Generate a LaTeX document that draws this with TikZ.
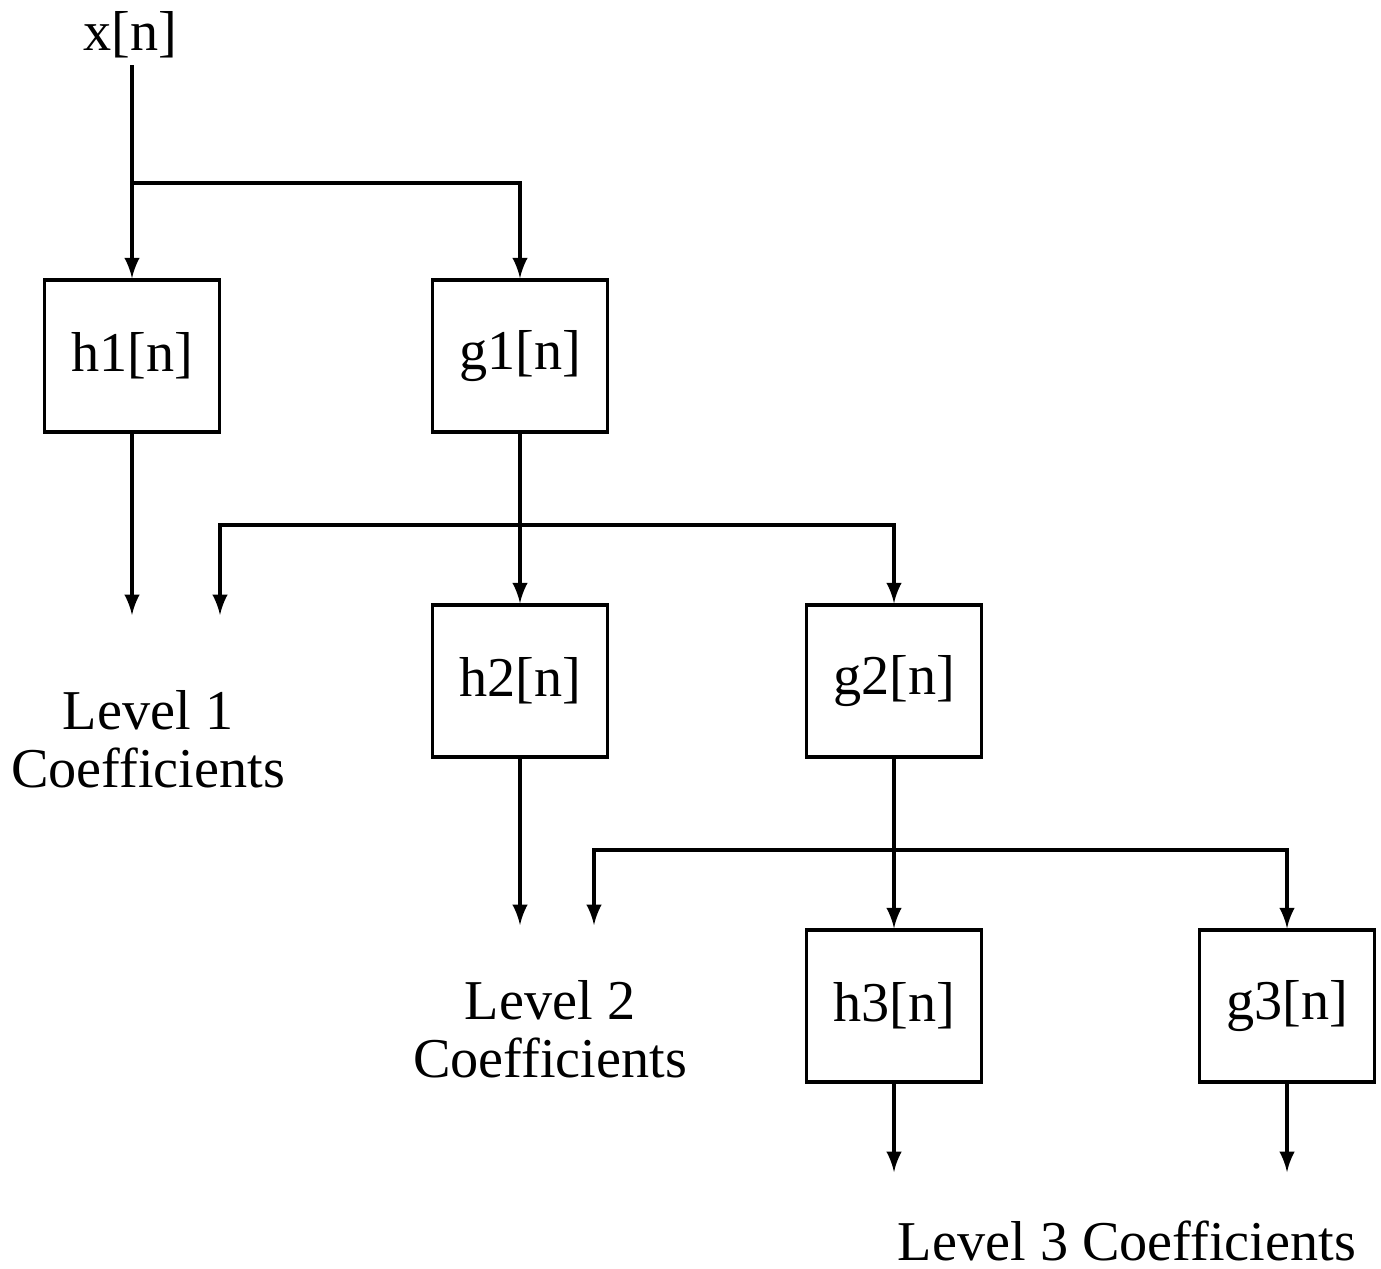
\documentclass[tikz,border=0pt]{standalone}
\usepackage{fontspec}
\setmainfont{Liberation Serif}
\usetikzlibrary{positioning}
\tikzset{>=latex}
\tikzset{filterbox/.style={draw, line width=1pt, minimum width=1.75cm, minimum height=1.52cm, inner sep=0pt},
	lbl/.style={align=center, inner sep=0pt}}

\begin{document}
\begin{tikzpicture}[line width=1pt, font=\fontsize{16}{16.5}\selectfont]
		\useasboundingbox (0,0) rectangle (13.81,12.68);
		\pgfmathsetmacro{\xa}{1.32}
		\pgfmathsetmacro{\xb}{5.20}
		\pgfmathsetmacro{\xc}{8.94}
		\pgfmathsetmacro{\xd}{12.87}

		% the filter boxes
		\node[filterbox] (h1) at (\xa,9.12) {h1[n]};
		\node[filterbox] (g1) at (\xb,9.12) {g1[n]};
		\node[filterbox] (h2) at (\xb,5.87) {h2[n]};
		\node[filterbox] (g2) at (\xc,5.87) {g2[n]};
		\node[filterbox] (h3) at (\xc,2.62) {h3[n]};
		\node[filterbox] (g3) at (\xd,2.62) {g3[n]};

		\node[inner sep=0pt] (x) at (1.30,12.33) {x[n]};

		% branch points and free ends
		\coordinate (s1) at (\xa,10.85);
		\coordinate (s2) at (\xb,7.43);
		\coordinate (s3) at (\xc,4.18);
		\coordinate (e1) at (\xa,6.53);
		\coordinate (d1) at (2.20,6.53);
		\coordinate (e2) at (\xb,3.43);
		\coordinate (d2) at (5.94,3.43);
		\coordinate (e3) at (\xc,0.96);
		\coordinate (e4) at (\xd,0.96);

		% level 1
		\draw[->] (x.south -| s1) +(0,-0.05) -- (h1.north);
		\draw[->] (s1) -| (g1.north);
		\draw[->] (h1.south) -- (e1);

		% level 2
		\draw[->] (g1.south) -- (h2.north);
		\draw[->] (s2) -| (d1);
		\draw[->] (s2) -| (g2.north);
		\draw[->] (h2.south) -- (e2);

		% level 3
		\draw[->] (g2.south) -- (h3.north);
		\draw[->] (s3) -| (d2);
		\draw[->] (s3) -| (g3.north);
		\draw[->] (h3.south) -- (e3);
		\draw[->] (g3.south) -- (e4);

		\node[lbl] (c1) at (1.48,5.29) {Level 1\\Coefficients};
		\node[lbl] (c2) at (5.50,2.39) {Level 2\\Coefficients};
		\node[lbl] (c3) at (11.27,0.27) {Level 3 Coefficients};

	\end{tikzpicture}
\end{document}
